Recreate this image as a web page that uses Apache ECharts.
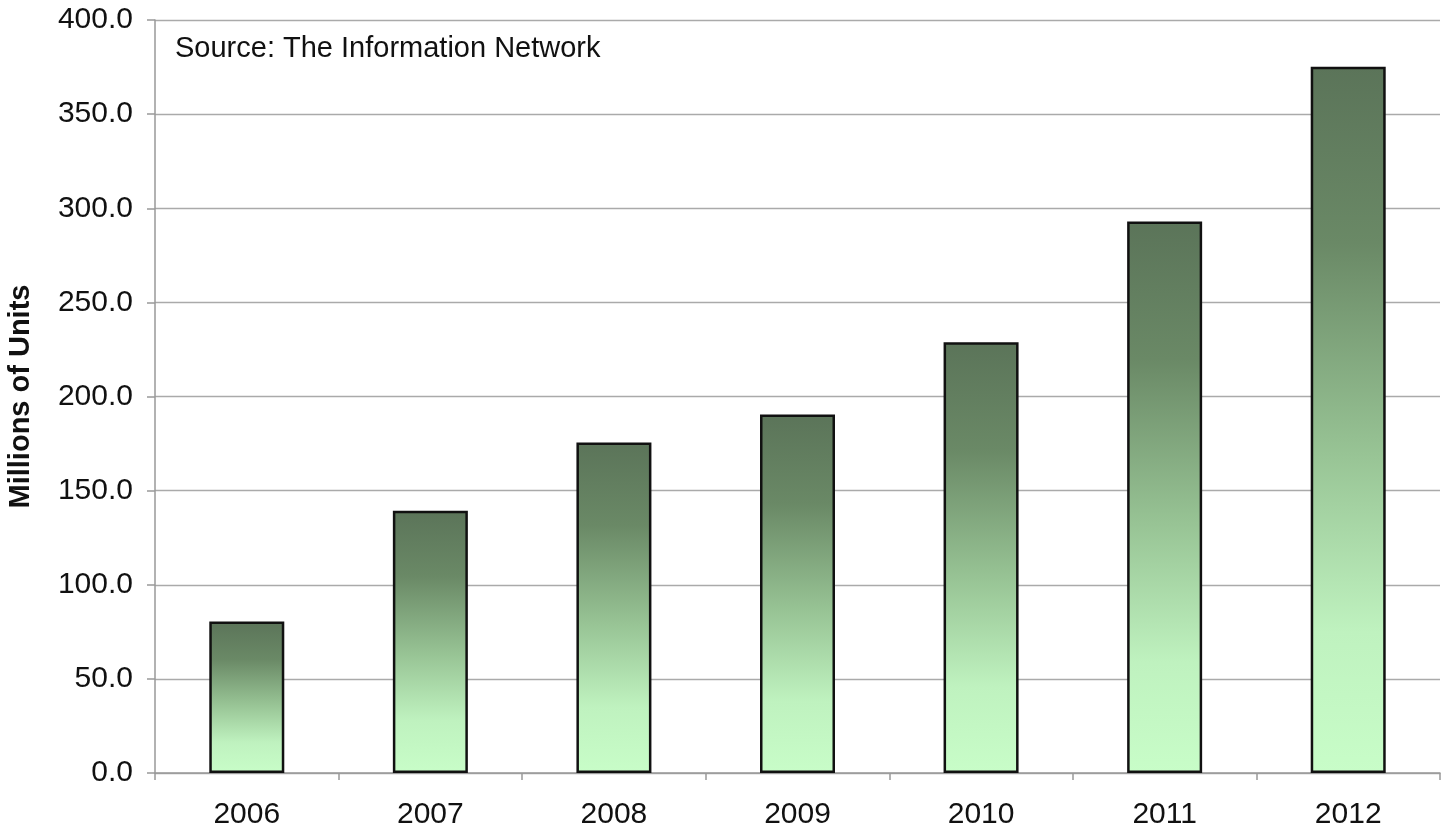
<!DOCTYPE html>
<html>
<head>
<meta charset="utf-8">
<script src="https://cdn.jsdelivr.net/npm/echarts@6/dist/echarts.min.js"></script>
<style>
html,body{margin:0;padding:0;background:#fff;}
#chart{width:1441px;height:828px;}
</style>
</head>
<body>
<div id="chart"></div>
<script>
const categories = ['2006','2007','2008','2009','2010','2011','2012'];
const units = [80.5, 139.3, 175.5, 190.5, 228.8, 293.0, 375.2];
const yTicks = {min: 0, max: 400, interval: 50};
const yTitle = 'Millions of Units';
const sourceNote = 'Source: The Information Network';

const chart = echarts.init(document.getElementById('chart'), null, {renderer: 'canvas'});
const font = 'Liberation Sans, Arial, sans-serif';
chart.setOption({
  animation: false,
  backgroundColor: '#ffffff',
  grid: {left: 155, right: 1, top: 20, bottom: 55, containLabel: false, outerBoundsMode: 'none'},
  graphic: [{
    type: 'text', left: 175, top: 34,
    style: {text: sourceNote, font: '29px ' + font, fill: '#111'}
  }],
  xAxis: {
    type: 'category', data: categories,
    axisLine: {lineStyle: {color: '#999', width: 1.5}},
    axisTick: {show: true, length: 7, lineStyle: {color: '#999', width: 1.5}},
    axisLabel: {fontSize: 30, color: '#111', fontFamily: font, margin: 27}
  },
  yAxis: {
    type: 'value', min: yTicks.min, max: yTicks.max, interval: yTicks.interval,
    name: yTitle, nameLocation: 'middle', nameGap: 120,
    nameTextStyle: {fontSize: 29, fontWeight: 'bold', color: '#111', fontFamily: font},
    axisLine: {show: true, lineStyle: {color: '#999', width: 1.5}},
    axisTick: {show: true, length: 8, lineStyle: {color: '#999', width: 1.5}},
    axisLabel: {fontSize: 30, color: '#111', fontFamily: font, margin: 22,
      formatter: v => v.toFixed(1)},
    splitLine: {lineStyle: {color: '#aaa', width: 1.3}}
  },
  series: [{
    type: 'bar', data: units, barWidth: 75,
    itemStyle: {
      borderColor: '#111', borderWidth: 2.5,
      color: new echarts.graphic.LinearGradient(0, 0, 0, 1, [
        {offset: 0, color: '#5b7459'},
        {offset: 0.25, color: '#6a8966'},
        {offset: 0.55, color: '#98c495'},
        {offset: 0.8, color: '#bff2bf'},
        {offset: 1, color: '#c8fdc8'}
      ])
    }
  }]
});
</script>
</body>
</html>
